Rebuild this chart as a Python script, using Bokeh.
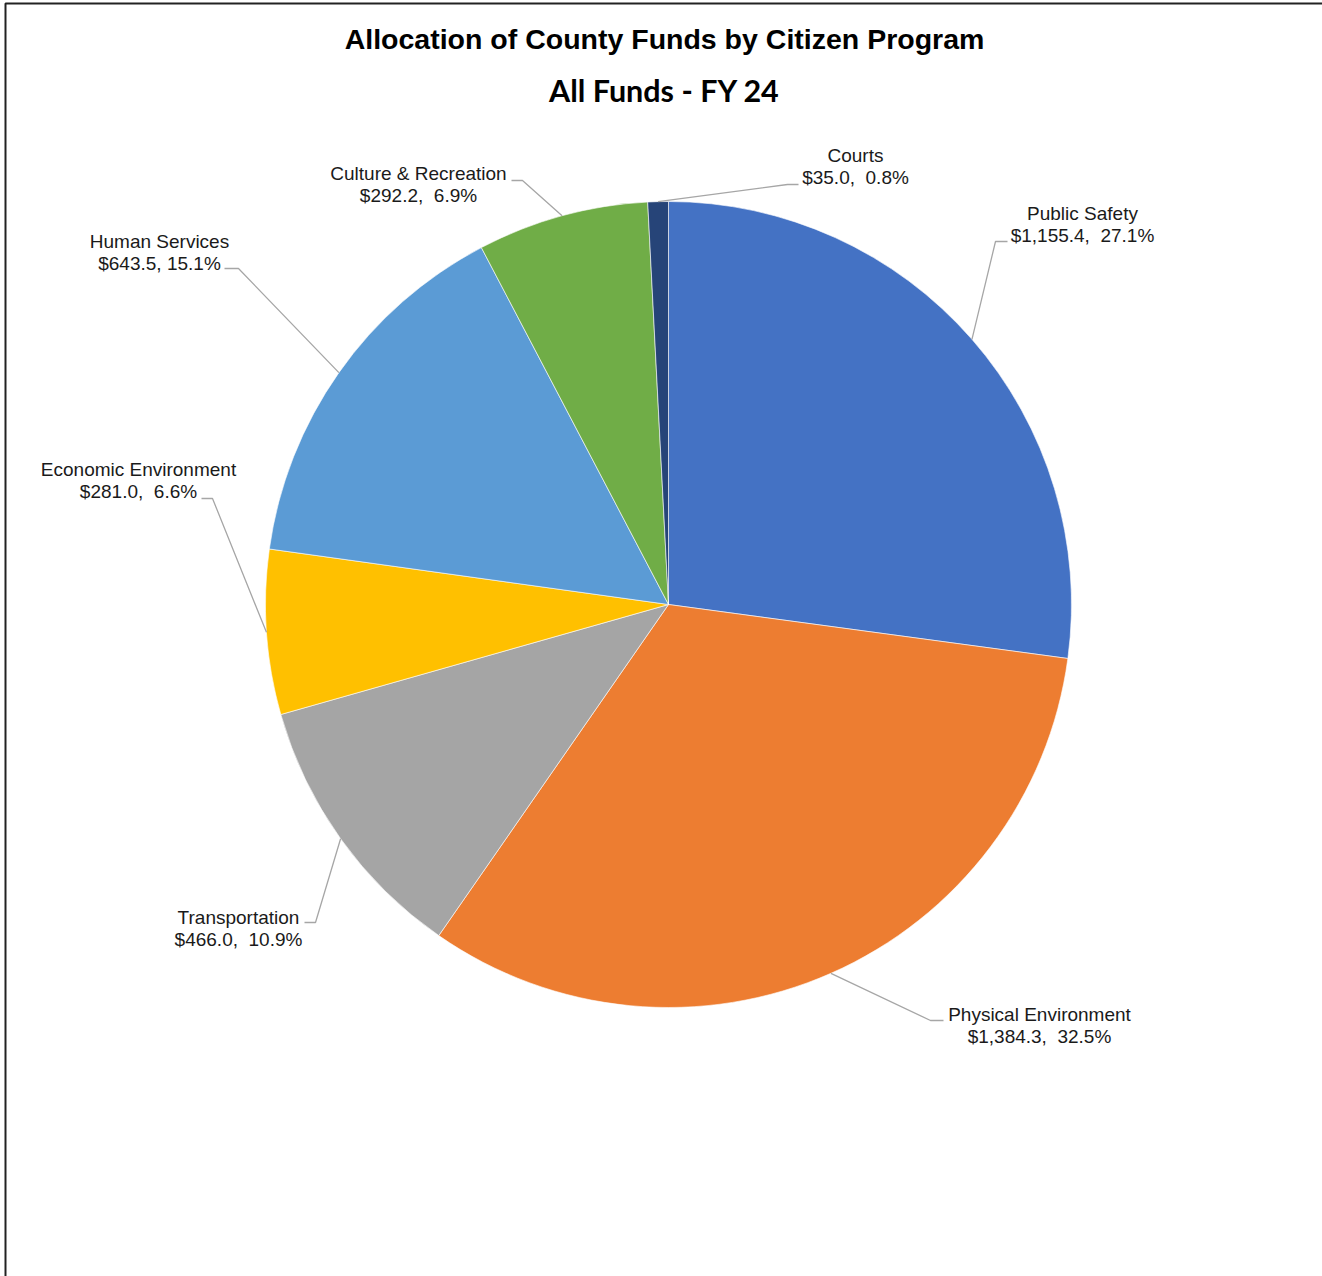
import math
from bokeh.plotting import figure
from bokeh.models import Range1d
from bokeh.core.properties import value
from bokeh.embed import file_html
from bokeh.resources import INLINE

# ---- data ----
programs = ["Public Safety", "Physical Environment", "Transportation",
            "Economic Environment", "Human Services", "Culture & Recreation", "Courts"]
amounts = [1155.4, 1384.3, 466.0, 281.0, 643.5, 292.2, 35.0]
percents = [27.1, 32.5, 10.9, 6.6, 15.1, 6.9, 0.8]
colors = ["#4472C4", "#ED7D31", "#A5A5A5", "#FFC000", "#5B9BD5", "#70AD47", "#264478"]

title1 = "Allocation of County Funds by Citizen Program"
title2 = "All Funds - FY 24"

# ---- layout (pixel positions) ----
W, H = 1322, 1276
CX, CY, R = 668, 604, 403
def Y(py):
    return H - py

# label center x, first-line center y; leader elbow and end points
label_pos = {
    "Public Safety": (1082, 213, (995, 241), (1007, 241)),
    "Physical Environment": (1039, 1014, (930, 1020), (943, 1020)),
    "Transportation": (238, 917, (315, 922), (304, 922)),
    "Economic Environment": (138, 469, (212, 498), (201, 498)),
    "Human Services": (159, 241, (238, 268), (224, 268)),
    "Culture & Recreation": (418, 173, (522, 180), (511, 180)),
    "Courts": (855, 155, (787, 184), (798, 184)),
}
seps = {"Human Services": ", "}

p = figure(width=W, height=H, x_range=Range1d(0, W), y_range=Range1d(0, H),
           output_backend="svg", toolbar_location=None,
           min_border=0, min_border_left=0, min_border_right=0,
           min_border_top=0, min_border_bottom=0)
p.axis.visible = False
p.grid.visible = False
p.outline_line_color = None
p.background_fill_color = "white"
p.border_fill_color = "white"

total = sum(amounts)
cum = 0.0
starts, ends, mids = [], [], []
for a in amounts:
    s = math.pi / 2 - 2 * math.pi * cum / total
    cum += a
    e = math.pi / 2 - 2 * math.pi * cum / total
    starts.append(s)
    ends.append(e)
    mids.append((s + e) / 2)

p.wedge(x=[CX] * len(amounts), y=[Y(CY)] * len(amounts), radius=R,
        start_angle=ends, end_angle=starts, direction="anticlock",
        fill_color=colors, line_color="white", line_width=0.6)

font = value("Liberation Sans")
for name, amt, pct, m in zip(programs, amounts, percents, mids):
    lx, ly, elbow, end = label_pos[name]
    sx = CX + R * math.cos(m)
    sy = CY - R * math.sin(m)
    p.line([sx, elbow[0], end[0]], [Y(sy), Y(elbow[1]), Y(end[1])],
           line_color="#A6A6A6", line_width=1.3)
    sep = seps.get(name, ",\u00a0 ")
    line2 = "${:,.1f}{}{:.1f}%".format(amt, sep, pct)
    p.text(x=[lx, lx], y=[Y(ly), Y(ly + 22)], text=[name, line2],
           text_font=font, text_font_size="19px", text_color="#1a1a1a",
           text_align="center", text_baseline="middle")

p.text(x=[664], y=[Y(38)], text=[title1], text_font=font,
       text_font_size="28.5px", text_font_style="bold", text_color="black",
       text_align="center", text_baseline="middle")
p.text(x=[664], y=[Y(89)], text=[title2], text_font=value("Lato"),
       text_font_size="30.5px", text_font_style="bold", text_color="black",
       text_align="center", text_baseline="middle")

# frame border (top and left visible)
p.line([5, 5, W], [0, Y(3), Y(3)], line_color="#222222", line_width=2)

open("out.html", "w").write(file_html(p, INLINE))
